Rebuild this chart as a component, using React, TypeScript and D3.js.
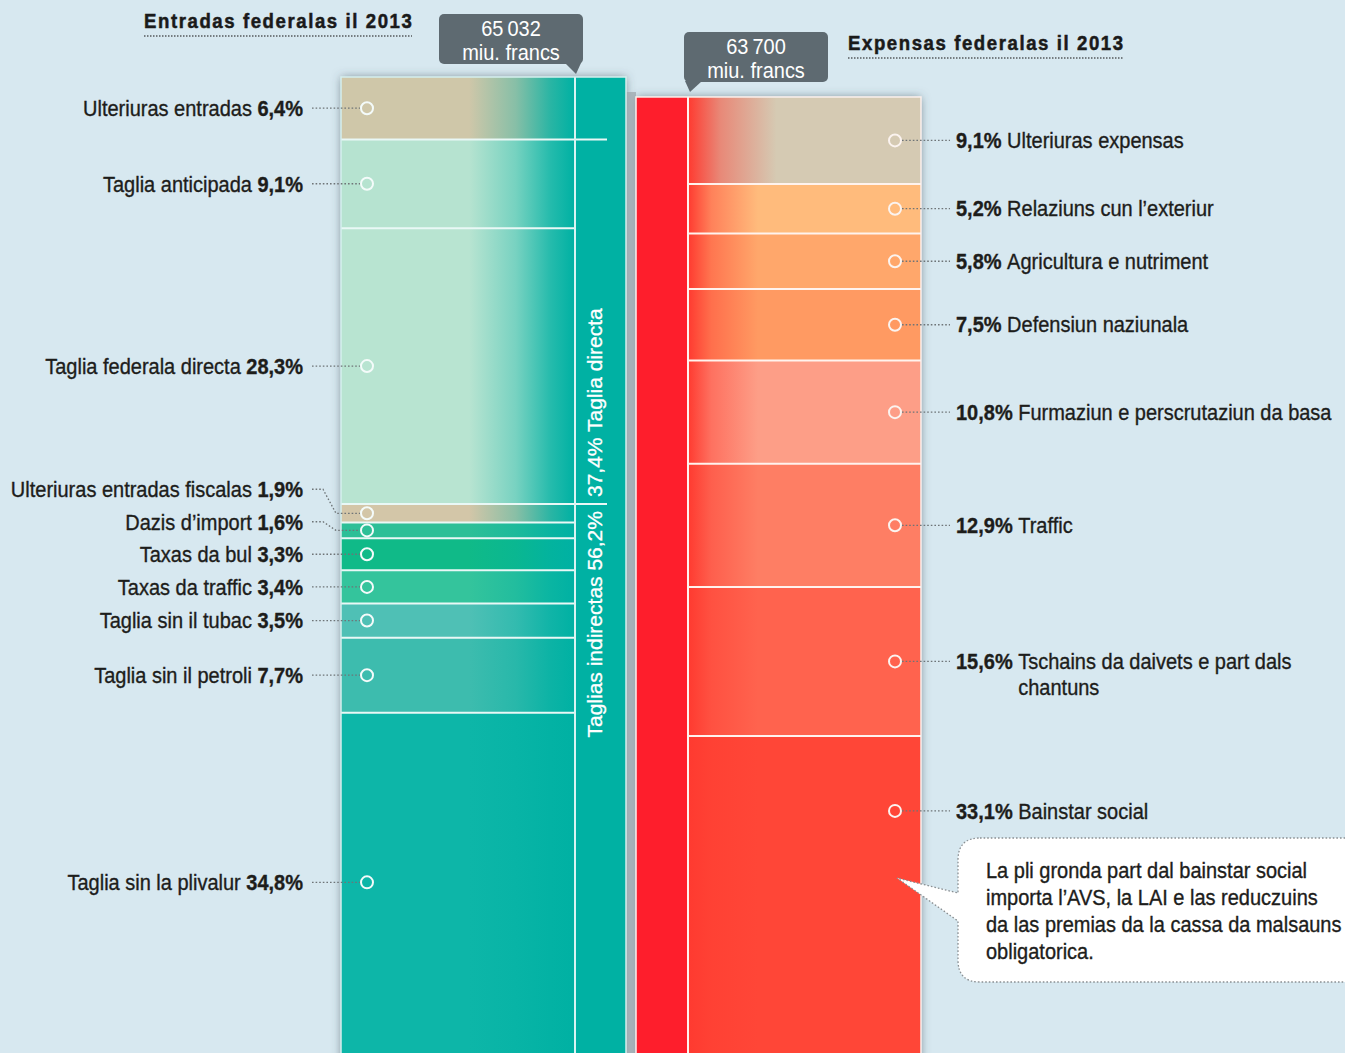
import React from "react";
import * as d3 from "d3";

const W = 1345;
const H = 1053;

// ---------- data ----------
const revenueTotal = 65032;
const expenseTotal = 63700;
const titles = ["Entradas federalas il 2013", "Expensas federalas il 2013"];
const unitLabel = "miu. francs";

const revenueNames = [
  "Ulteriuras entradas",
  "Taglia anticipada",
  "Taglia federala directa",
  "Ulteriuras entradas fiscalas",
  "Dazis d’import",
  "Taxas da bul",
  "Taxas da traffic",
  "Taglia sin il tubac",
  "Taglia sin il petroli",
  "Taglia sin la plivalur",
];
const revenueShares = [6.4, 9.1, 28.3, 1.9, 1.6, 3.3, 3.4, 3.5, 7.7, 34.8];
const revenueGroups = ["", "directa", "directa", "indirecta", "indirecta", "indirecta", "indirecta", "indirecta", "indirecta", "indirecta"];
const groupNames: Record<string, string> = { directa: "Taglia directa", indirecta: "Taglias indirectas" };

const expenseNames = [
  "Ulteriuras expensas",
  "Relaziuns cun l’exteriur",
  "Agricultura e nutriment",
  "Defensiun naziunala",
  "Furmaziun e perscrutaziun da basa",
  "Traffic",
  "Tschains da daivets e part dals chantuns",
  "Bainstar social",
];
const expenseShares = [9.1, 5.2, 5.8, 7.5, 10.8, 12.9, 15.6, 33.1];

const noteLines = [
  "La pli gronda part dal bainstar social",
  "importa l’AVS, la LAI e las reduczuins",
  "da las premias da la cassa da malsauns",
  "obligatorica.",
];

// ---------- styles ----------
const revenueColors = ["#cfc7a9", "#b6e3d0", "#b8e4d1", "#d3c6a8", "#2dbf97", "#10ba88", "#34c49c", "#4fc0b5", "#3dbcae", "#0db6a8"];
const revenueEnd = "#00b1a3";
const expenseColors = ["#d5cab3", "#ffbb7c", "#ffa76b", "#ff9a62", "#fd9e87", "#fe7e64", "#ff634e", "#ff4637"];
const expenseStart = "#ff3a30";
const BG = "#d7e8f0";
const FONT = '"Liberation Sans", Arial, Helvetica, sans-serif';
const FS = 21.5;
const SX = 0.93;
const INK = "#1d1d1b";

const locale = d3.formatLocale({ decimal: ",", thousands: "\u2009", grouping: [3], currency: ["", ""] });
const fmtPct = (v: number) => locale.format(".1f")(v) + "%";
const fmtTot = locale.format(",d");

let ctx: CanvasRenderingContext2D | null = null;
function measure(text: string, bold = false, size = FS) {
  if (!ctx) ctx = document.createElement("canvas").getContext("2d");
  if (!ctx) return text.length * size * 0.5;
  ctx.font = `${bold ? "bold " : ""}${size}px ${FONT}`;
  return ctx.measureText(text).width * SX;
}

function SText(props: any) {
  const { x, y, children, ...rest } = props;
  return (
    <g transform={`translate(${x},${y}) scale(${SX},1)`}>
      <text fontFamily={FONT} fontSize={FS} {...rest}>
        {children}
      </text>
    </g>
  );
}

export default function App() {
  React.useEffect(() => {
    document.body.style.margin = "0";
  }, []);

  const y = d3.scaleLinear().domain([0, revenueTotal]).range([1052, 77]);

  // layout
  const L = { x0: 341, x1: 574, x2: 626 };
  const R = { x0: 636, x1: 688, x2: 921 };

  // stacks (top to bottom)
  const revVals = revenueShares.map((s) => (s / 100) * revenueTotal);
  const revCum = [0, ...d3.cumsum(revVals)];
  const revSegs = revVals.map((v, i) => {
    const top = y(revenueTotal - revCum[i]);
    const bot = y(revenueTotal - revCum[i + 1]);
    return { i, top, bot, mid: (top + bot) / 2 };
  });
  const expVals = expenseShares.map((s) => (s / 100) * expenseTotal);
  const expCum = [0, ...d3.cumsum(expVals)];
  const expSegs = expVals.map((v, i) => {
    const top = y(expenseTotal - expCum[i]);
    const bot = y(expenseTotal - expCum[i + 1]);
    return { i, top, bot, cy: top + Math.min((bot - top) / 2, 75) };
  });

  // left label relaxation (bottom-up)
  const gap = 32.5;
  const leftLabelY = revSegs.map((s) => s.mid);
  for (let i = leftLabelY.length - 2; i >= 0; i--) {
    leftLabelY[i] = Math.min(leftLabelY[i], leftLabelY[i + 1] - gap);
  }

  // group totals
  const groupKeys = ["indirecta", "directa"];
  const groupTotals: Record<string, number> = {};
  groupKeys.forEach((g) => {
    groupTotals[g] = d3.sum(revenueShares.filter((_, i) => revenueGroups[i] === g));
  });
  const groupBoundary = revSegs.find((s, i) => i > 0 && revenueGroups[i] === "indirecta" && revenueGroups[i - 1] !== "indirecta")!.top;

  // right label wrapping
  const rightLabelX = 956;
  const rightLines = expenseNames.map((name, i) => {
    const pctText = fmtPct(expenseShares[i]) + " ";
    const pw = measure(pctText, true);
    const words = name.split(" ");
    const lines: string[] = [];
    let cur = "";
    words.forEach((w) => {
      const test = cur ? cur + " " + w : w;
      if (rightLabelX + pw + measure(test) > 1338 && cur) {
        lines.push(cur);
        cur = w;
      } else cur = test;
    });
    lines.push(cur);
    return { pctText, pw, lines };
  });

  const titleLS = 1.7;
  const titleW = (t: string) => measure(t, true, 20) + titleLS * SX * (t.length - 1);
  const stripCx = (L.x1 + L.x2) / 2 - 6;

  const lgStops = (c: string) => [
    [0, c],
    [0.55, c],
    [0.75, d3.interpolateRgb(c, revenueEnd)(0.35)],
    [0.9, d3.interpolateRgb(c, revenueEnd)(0.8)],
    [1, revenueEnd],
  ];
  const rgStops = (c: string, i: number) => [
    [0, expenseStart],
    [i === 0 ? 0.14 : 0.1, d3.interpolateRgb(expenseStart, c)(0.55)],
    [i === 0 ? 0.38 : 0.3, c],
    [1, c],
  ];

  return (
    <svg width={W} height={H} style={{ position: "absolute", left: 0, top: 0, display: "block" }}>
      <defs>
        <filter id="shadow" x="-20%" y="-5%" width="140%" height="110%">
          <feDropShadow dx="0" dy="0" stdDeviation="5" floodColor="#44555f" floodOpacity="0.6" />
        </filter>
        {revenueColors.map((c, i) => (
          <linearGradient key={"gl" + i} id={"gl" + i} x1="0" x2="1" y1="0" y2="0">
            {lgStops(c).map((s, k) => (
              <stop key={k} offset={s[0] as number} stopColor={s[1] as string} />
            ))}
          </linearGradient>
        ))}
        {expenseColors.map((c, i) => (
          <linearGradient key={"gr" + i} id={"gr" + i} x1="0" x2="1" y1="0" y2="0">
            {rgStops(c, i).map((s, k) => (
              <stop key={k} offset={s[0] as number} stopColor={s[1] as string} />
            ))}
          </linearGradient>
        ))}
      </defs>
      <rect x={0} y={0} width={W} height={H} fill={BG} />

      {/* shadows */}
      <rect x={L.x0} y={y(revenueTotal)} width={L.x2 - L.x0} height={y(0) - y(revenueTotal) + 20} fill="#8fa0a8" filter="url(#shadow)" />
      <rect x={R.x0} y={y(expenseTotal)} width={R.x2 - R.x0} height={y(0) - y(expenseTotal) + 20} fill="#8fa0a8" filter="url(#shadow)" />
      <rect x={L.x2} y={y(revenueTotal) + 15} width={R.x0 - L.x2} height={H} fill="#9aa4aa" opacity={0.7} />

      {/* left column */}
      <rect x={L.x1} y={y(revenueTotal)} width={L.x2 - L.x1} height={y(0) - y(revenueTotal) + 5} fill="#00b1a3" />
      {revSegs.map((s) => (
        <rect key={"rl" + s.i} x={L.x0} y={s.top} width={L.x1 - L.x0} height={s.bot - s.top + (s.i === revSegs.length - 1 ? 5 : 0)} fill={`url(#gl${s.i})`} />
      ))}
      {revSegs.slice(1).map((s) => (
        <line
          key={"sl" + s.i}
          x1={L.x0}
          x2={revenueGroups[s.i] !== revenueGroups[s.i - 1] ? 607 : L.x1}
          y1={s.top}
          y2={s.top}
          stroke="#e9f8f6"
          strokeWidth={2}
        />
      ))}
      <line x1={L.x1 + 1} x2={L.x1 + 1} y1={y(revenueTotal)} y2={H} stroke="#d8f4f2" strokeWidth={2} />
      <rect x={L.x0} y={y(revenueTotal)} width={L.x2 - L.x0} height={H} fill="none" stroke="#d5efee" strokeWidth={1.5} />

      {/* group labels in strip */}
      <g transform={`translate(${stripCx},${groupBoundary + 7}) rotate(-90)`}>
        <text fontFamily={FONT} fontSize={21} fill="#ffffff" textAnchor="end" dy="0.36em" stroke="#ffffff" strokeWidth={0.3}>
          {groupNames.indirecta + " " + fmtPct(groupTotals.indirecta)}
        </text>
      </g>
      <g transform={`translate(${stripCx},${groupBoundary - 7}) rotate(-90)`}>
        <text fontFamily={FONT} fontSize={21} fill="#ffffff" textAnchor="start" dy="0.36em" stroke="#ffffff" strokeWidth={0.3}>
          {fmtPct(groupTotals.directa) + " " + groupNames.directa}
        </text>
      </g>

      {/* right column */}
      <rect x={R.x0} y={y(expenseTotal)} width={R.x1 - R.x0} height={H} fill="#fe1e2c" />
      {expSegs.map((s) => (
        <rect key={"rr" + s.i} x={R.x1} y={s.top} width={R.x2 - R.x1} height={s.bot - s.top + (s.i === expSegs.length - 1 ? 5 : 0)} fill={`url(#gr${s.i})`} />
      ))}
      {expSegs.slice(1).map((s) => (
        <line key={"sr" + s.i} x1={R.x1} x2={R.x2} y1={s.top} y2={s.top} stroke="#fff3ee" strokeWidth={2} />
      ))}
      <line x1={R.x1} x2={R.x1} y1={y(expenseTotal)} y2={H} stroke="#fff4f0" strokeWidth={2} />
      <rect x={R.x0} y={y(expenseTotal)} width={R.x2 - R.x0} height={H} fill="none" stroke="#fbf1ee" strokeWidth={1.5} />

      {/* left labels */}
      {revSegs.map((s, i) => {
        const ly = leftLabelY[i];
        const bent = Math.abs(ly - s.mid) > 0.5;
        const d = bent ? `M312,${ly} H323 L336,${s.mid} H361` : `M312,${ly} H361`;
        return (
          <g key={"ll" + i}>
            <path d={d} fill="none" stroke="#6e7477" strokeWidth={1.3} strokeDasharray="1.6,2" />
            <circle cx={367} cy={s.mid} r={6} fill="none" stroke="#f4fbfa" strokeWidth={2} />
            <SText x={303} y={ly} textAnchor="end" dy="0.36em" fill={INK} stroke={INK} strokeWidth={0.35}>
              {revenueNames[i] + " "}
              <tspan fontWeight="bold">{fmtPct(revenueShares[i])}</tspan>
            </SText>
          </g>
        );
      })}

      {/* right labels */}
      {expSegs.map((s, i) => {
        const info = rightLines[i];
        return (
          <g key={"lr" + i}>
            <path d={`M902,${s.cy} H950`} fill="none" stroke="#6e7477" strokeWidth={1.3} strokeDasharray="1.6,2" />
            <circle cx={895} cy={s.cy} r={6} fill="none" stroke="#fbf3ef" strokeWidth={2} />
            <SText x={rightLabelX} y={s.cy} dy="0.36em" fill={INK} stroke={INK} strokeWidth={0.35}>
              <tspan fontWeight="bold">{info.pctText}</tspan>
              {info.lines[0]}
            </SText>
            {info.lines.slice(1).map((ln, k) => (
              <SText key={k} x={rightLabelX + info.pw} y={s.cy + 26 * (k + 1)} dy="0.36em" fill={INK} stroke={INK} strokeWidth={0.35}>
                {ln}
              </SText>
            ))}
          </g>
        );
      })}

      {/* titles */}
      {[
        { t: titles[0], x: 144, yb: 28 },
        { t: titles[1], x: 848, yb: 50 },
      ].map((d, i) => (
        <g key={"t" + i}>
          <g transform={`translate(${d.x},${d.yb}) scale(${SX},1)`}>
            <text fontFamily={FONT} fontSize={20} fontWeight="bold" letterSpacing={titleLS} fill="#1a1a1a" stroke="#1a1a1a" strokeWidth={0.5}>
              {d.t}
            </text>
          </g>
          <line x1={d.x} x2={d.x + titleW(d.t)} y1={d.yb + 8} y2={d.yb + 8} stroke="#55595c" strokeWidth={1.3} strokeDasharray="1.5,1.5" />
        </g>
      ))}

      {/* totals callouts */}
      {[
        { v: revenueTotal, x: 439, yt: 14, tipX: 576, side: "right" },
        { v: expenseTotal, x: 684, yt: 32, tipX: 690, side: "left" },
      ].map((c, i) => {
        const w = 144;
        const h = 50;
        const tri =
          c.side === "right"
            ? `M${c.x + w - 18},${c.yt + h - 1} L${c.tipX},${c.yt + h + 10} L${c.x + w - 2},${c.yt + h - 1} Z`
            : `M${c.x + 1},${c.yt + h - 1} L${c.tipX},${c.yt + h + 10} L${c.x + 18},${c.yt + h - 1} Z`;
        return (
          <g key={"c" + i}>
            <rect x={c.x} y={c.yt} width={w} height={h} rx={5} fill="#5e6a71" />
            <path d={tri} fill="#5e6a71" />
            <SText x={c.x + w / 2} y={c.yt + 22} textAnchor="middle" fill="#ffffff">
              {fmtTot(c.v)}
            </SText>
            <SText x={c.x + w / 2} y={c.yt + 46} textAnchor="middle" fill="#ffffff">
              {unitLabel}
            </SText>
          </g>
        );
      })}

      {/* note bubble */}
      <path
        d="M980,838 H1365 V982 H980 Q958,982 958,960 V921 L897,878 L958,893 V860 Q958,838 980,838 Z"
        fill="#ffffff"
        stroke="#8a8f92"
        strokeWidth={1.3}
        strokeDasharray="1.6,2"
      />
      {noteLines.map((ln, i) => (
        <SText key={"n" + i} x={986} y={870 + i * 27} dy="0.36em" fill={INK} stroke={INK} strokeWidth={0.35}>
          {ln}
        </SText>
      ))}
    </svg>
  );
}
